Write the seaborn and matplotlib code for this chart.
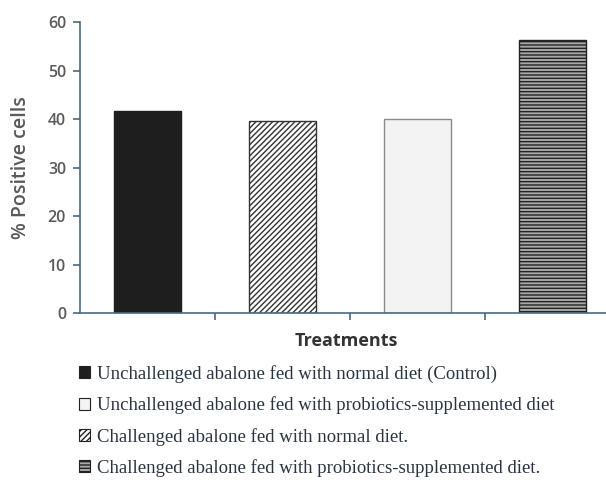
import matplotlib
matplotlib.use("Agg")
import matplotlib.pyplot as plt
import seaborn as sns
import pandas as pd
from matplotlib.patches import Patch

# values
treatments = [
    "Unchallenged abalone fed with normal diet (Control)",
    "Challenged abalone fed with normal diet.",
    "Unchallenged abalone fed with probiotics-supplemented diet",
    "Challenged abalone fed with probiotics-supplemented diet.",
]
positive_cells = [41.7, 39.6, 40.1, 56.4]
legend_order = [0, 2, 1, 3]

faces = ["#1e1e1e", "#ffffff", "#f3f3f3", "#a8a8a8"]
hatches = [None, "//////", None, "-----"]
edges = ["#1e1e1e", "#333333", "#8a8a8a", "#222222"]

df = pd.DataFrame({"treatment": treatments, "value": positive_cells})

sns.set_style("white")
plt.rcParams["font.family"] = ["Open Sans", "DejaVu Sans"]
plt.rcParams["hatch.linewidth"] = 1.0

fig = plt.figure(figsize=(6.06, 4.83), dpi=100)
ax = fig.add_axes([0.132, 0.352, 0.88, 0.602])

sns.barplot(data=df, x="treatment", y="value", hue="treatment",
            palette=faces, width=0.5, legend=False, ax=ax, saturation=1)

for i, bar in enumerate(ax.patches):
    bar.set_facecolor(faces[i])
    bar.set_edgecolor(edges[i])
    bar.set_linewidth(1.0)
    if hatches[i]:
        bar.set_hatch(hatches[i])

ax.set_xlim(-0.5, 3.45)
ax.set_ylim(0, 60)
ax.set_yticks(range(0, 61, 10))
ax.set_xticks([0.5, 1.5, 2.5])
ax.set_xticklabels([])
ax.tick_params(axis="both", direction="out", length=5, width=1.2,
               color="#4a6a80", labelcolor="#5a5a5a", labelsize=11.5,
               left=True, bottom=True)
ax.tick_params(axis="y", pad=5)
for t in ax.get_yticklabels():
    t.set_fontweight("semibold")

sns.despine(ax=ax)
for s in ["left", "bottom"]:
    ax.spines[s].set_color("#4a6a80")
    ax.spines[s].set_linewidth(1.2)

ax.set_ylabel("% Positive cells", fontsize=14, color="#5a5a5a",
              fontweight="semibold", labelpad=12)
ax.set_xlabel("Treatments", fontsize=13, fontweight="bold", color="#333333",
              labelpad=5)

handles = [Patch(facecolor=faces[i], edgecolor="#222222", hatch=hatches[i],
                 linewidth=0.8, label=treatments[i]) for i in legend_order]
leg = fig.legend(handles=handles, loc="upper left", bbox_to_anchor=(0.118, 0.26),
                 frameon=False, prop={"family": "Liberation Serif", "size": 13.5},
                 handlelength=0.6, handleheight=0.6, handletextpad=0.35,
                 labelspacing=0.72, borderaxespad=0)
for t in leg.get_texts():
    t.set_color("#2a3440")

fig.savefig("out.png", dpi=100)
